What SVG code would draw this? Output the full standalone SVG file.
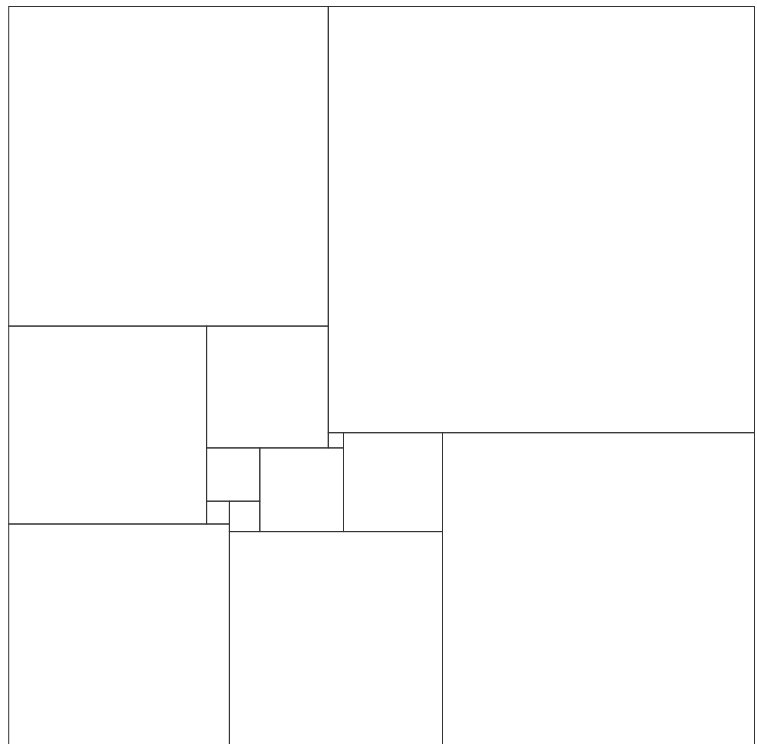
<svg xmlns="http://www.w3.org/2000/svg" width="757" height="744" viewBox="0 0 757 744">
<style>
.sq { fill: none; stroke: #333; stroke-width: 1; }
</style>
<rect x="0" y="0" width="757" height="744" fill="#fff"/>
<g id="sq42"><rect class="sq" x="8.7" y="6.5" width="319.6" height="319.6"/></g>
<g id="sq56"><rect class="sq" x="328.3" y="6.5" width="426.2" height="426.2"/></g>
<g id="sq26"><rect class="sq" x="8.7" y="326.1" width="197.9" height="197.9"/></g>
<g id="sq16"><rect class="sq" x="206.6" y="326.1" width="121.7" height="121.8"/></g>
<g id="sq2"><rect class="sq" x="328.3" y="432.7" width="15.2" height="15.2"/></g>
<g id="sq7"><rect class="sq" x="206.6" y="447.9" width="53.2" height="53.3"/></g>
<g id="sq11"><rect class="sq" x="259.8" y="447.9" width="83.7" height="83.7"/></g>
<g id="sq13"><rect class="sq" x="343.5" y="432.7" width="99" height="98.9"/></g>
<g id="sq41"><rect class="sq" x="442.5" y="432.7" width="312" height="312"/></g>
<g id="sq3"><rect class="sq" x="206.6" y="501.2" width="22.8" height="22.8"/></g>
<g id="sq4"><rect class="sq" x="229.4" y="501.2" width="30.4" height="30.4"/></g>
<g id="sq29"><rect class="sq" x="8.7" y="524" width="220.7" height="220.7"/></g>
<g id="sq28"><rect class="sq" x="229.4" y="531.6" width="213.1" height="213.1"/></g>
<g id="connectors"></g>
</svg>
